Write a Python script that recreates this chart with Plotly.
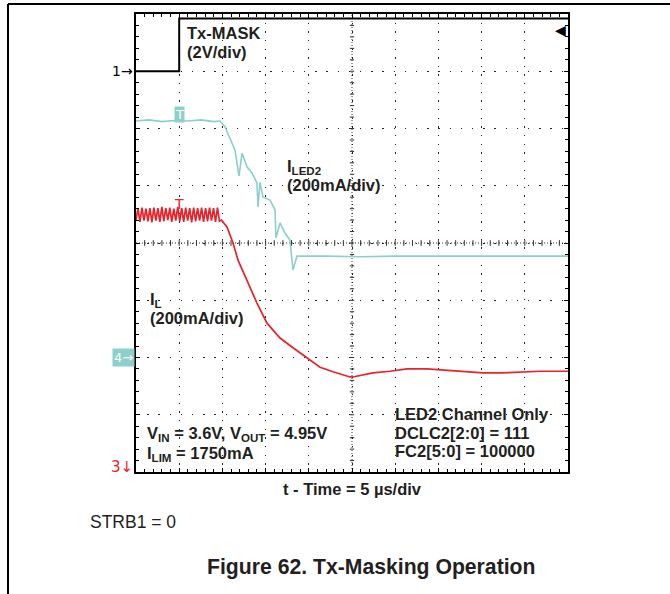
import plotly.graph_objects as go

# ---- data (time in µs, value in screen divisions 0..8) ----
txmask_t = [0.0, 5.0, 5.0, 50.0]
txmask_v = [7.0, 7.0, 7.92, 7.92]

iled2_t = [0.0, 1.5, 3.0, 4.5, 6.0, 7.5, 9.0, 9.72, 10.30, 11.11, 11.46, 11.92, 12.27, 12.85, 13.43,
           14.00, 14.12, 14.35, 14.70, 15.51, 16.09, 16.20, 16.67, 17.25, 17.82, 18.17, 18.63,
           22.0, 26.0, 30.0, 34.0, 38.0, 42.0, 46.0, 50.0]
iled2_v = [6.13, 6.15, 6.12, 6.14, 6.13, 6.15, 6.12, 6.13, 6.03, 5.76, 5.62, 5.17, 5.57, 5.33, 5.22,
           5.05, 4.63, 5.06, 4.80, 4.75, 4.58, 4.09, 4.35, 4.17, 4.05, 3.53, 3.77,
           3.77, 3.76, 3.77, 3.77, 3.76, 3.77, 3.77, 3.77]

il_ripple_t = [0.00, 0.23, 0.46, 0.69, 0.92, 1.15, 1.38, 1.61, 1.84, 2.07, 2.30, 2.53, 2.76, 2.99,
               3.22, 3.45, 3.68, 3.91, 4.14, 4.37, 4.60, 4.83, 5.06, 5.29, 5.52, 5.75, 5.98, 6.21,
               6.44, 6.67, 6.90, 7.13, 7.36, 7.59, 7.82, 8.05, 8.28, 8.51, 8.74, 8.97, 9.20, 9.43,
               9.66, 9.89]
il_ripple_v = [4.40, 4.61, 4.37, 4.62, 4.39, 4.60, 4.38, 4.61, 4.36, 4.62, 4.39, 4.61, 4.37, 4.63,
               4.38, 4.61, 4.40, 4.62, 4.37, 4.60, 4.39, 4.63, 4.38, 4.61, 4.37, 4.62, 4.39, 4.61,
               4.36, 4.62, 4.38, 4.61, 4.39, 4.62, 4.37, 4.61, 4.38, 4.62, 4.39, 4.61, 4.37, 4.62,
               4.38, 4.40]
il_decay_t = [10.53, 11.23, 11.81, 12.85, 14.00, 15.16, 16.67, 18.17, 19.79, 21.30, 22.80, 24.77,
              25.10, 27.43, 29.40, 31.37, 33.68, 35.53, 37.85, 40.16, 42.13, 44.44, 46.76, 50.0]
il_decay_v = [4.28, 4.00, 3.70, 3.35, 2.95, 2.60, 2.34, 2.17, 1.99, 1.83, 1.75, 1.66,
              1.66, 1.73, 1.76, 1.80, 1.80, 1.78, 1.75, 1.73, 1.73, 1.75, 1.76, 1.76]

FONT = "Liberation Sans, Arial, Helvetica, sans-serif"
SYM = "DejaVu Sans, sans-serif"
TXT = "#231f20"
CYAN = "#8ccfcb"
RED = "#e8232b"

fig = go.Figure()
fig.add_trace(go.Scatter(x=iled2_t, y=iled2_v, mode="lines", line=dict(color=CYAN, width=1.6),
                         hoverinfo="skip", showlegend=False))
fig.add_trace(go.Scatter(x=il_ripple_t + il_decay_t, y=il_ripple_v + il_decay_v, mode="lines",
                         line=dict(color=RED, width=1.7), hoverinfo="skip", showlegend=False))
fig.add_trace(go.Scatter(x=txmask_t, y=txmask_v, mode="lines", line=dict(color="black", width=2),
                         hoverinfo="skip", showlegend=False))

W, H = 670, 594
L, R, T, B = 136, 102, 14, 122
PW, PH = W - L - R, H - T - B

def px(x):
    return (x - L) / PW

def py(y):
    return (H - B - y) / PH

shapes = []
# page frame
shapes.append(dict(type="line", xref="paper", yref="paper", x0=px(8), x1=px(670), y0=py(4), y1=py(4),
                   line=dict(color="black", width=2)))
shapes.append(dict(type="line", xref="paper", yref="paper", x0=px(8), x1=px(8), y0=py(4), y1=py(594),
                   line=dict(color="black", width=2)))
# centre cross
shapes.append(dict(type="line", x0=0, x1=50, y0=4, y1=4, line=dict(color="#333", width=1, dash="1px,2px"), layer="below"))
shapes.append(dict(type="line", x0=25, x1=25, y0=0, y1=8, line=dict(color="#333", width=1, dash="1px,2px"), layer="below"))
for i in range(1, 50):
    shapes.append(dict(type="line", x0=i, x1=i, y0=3.95, y1=4.05, line=dict(color="#333", width=1), layer="below"))
for j in range(1, 40):
    shapes.append(dict(type="line", x0=24.75, x1=25.25, y0=j * 0.2, y1=j * 0.2, line=dict(color="#333", width=1), layer="below"))

annotations = []
def txt(x, y, s, size=16.5, bold=True, xref="x", yref="y", xanchor="left", color=TXT, family=FONT, **kw):
    annotations.append(dict(x=x, y=y, xref=xref, yref=yref, text=("<b>%s</b>" % s) if bold else s,
                            showarrow=False, xanchor=xanchor, yanchor="middle",
                            font=dict(family=family, size=size, color=color), **kw))

txt(5.67, 7.67, "Tx-MASK")
txt(5.67, 7.34, "(2V/div)")
txt(17.25, 5.33, "I<sub>LED2</sub>")
txt(17.25, 5.01, "(200mA/div)")
txt(1.39, 3.01, "I<sub>L</sub>")
txt(1.39, 2.69, "(200mA/div)")
txt(1.04, 0.66, "V<sub>IN</sub> = 3.6V, V<sub>OUT</sub> = 4.95V")
txt(1.04, 0.32, "I<sub>LIM</sub> = 1750mA")
txt(29.75, 1.01, "LED2 Channel Only")
txt(29.75, 0.69, "DCLC2[2:0] = 111")
txt(29.75, 0.37, "FC2[5:0] = 100000")
txt(0.5, py(489), "t - Time = 5 µs/div", size=16.5, xref="paper", yref="paper", xanchor="center")
txt(px(88), py(522), "STRB1 = 0", size=17.5, bold=False, xref="paper", yref="paper")
txt(px(371), py(567), "Figure 62. Tx-Masking Operation", size=21.2, xref="paper", yref="paper", xanchor="center")

# channel markers
txt(px(135), 7.0, "1→", size=14, bold=False, xref="paper", xanchor="right", color="black", family=SYM)
annotations.append(dict(x=px(135), y=2.0, xref="paper", yref="y", text="4→", showarrow=False,
                        xanchor="right", yanchor="middle", bgcolor=CYAN, borderpad=1,
                        font=dict(family=SYM, size=13, color="white")))
txt(px(135), 0.09, "3↓", size=15, bold=False, xref="paper", xanchor="right", color=RED, family=SYM)
annotations.append(dict(x=5.0, y=6.25, text="T", showarrow=False, xanchor="center", yanchor="middle",
                        bgcolor=CYAN, borderpad=0, font=dict(family=SYM, size=13, color="white")))
annotations.append(dict(x=5.0, y=4.68, text="T", showarrow=False, xanchor="center", yanchor="middle",
                        font=dict(family=SYM, size=14, color=RED)))
annotations.append(dict(x=1.0, y=7.72, xref="paper", yref="y", text="◀", showarrow=False,
                        xanchor="right", yanchor="middle", font=dict(family=SYM, size=14, color="black")))

axis_common = dict(showline=True, linecolor="black", linewidth=1.5, mirror="allticks",
                   ticks="inside", ticklen=4, tickcolor="black", tickwidth=1, showticklabels=False,
                   zeroline=False, showgrid=True, gridcolor="#222", gridwidth=1.2, fixedrange=True)

fig.update_layout(
    width=W, height=H, margin=dict(l=L, r=R, t=T, b=B),
    paper_bgcolor="white", plot_bgcolor="white",
    xaxis=dict(range=[0, 50], dtick=5, tick0=0, griddash="1.3px,7.34px",
               minor=dict(dtick=1, ticks="inside", ticklen=3, tickcolor="black", showgrid=False),
               **axis_common),
    yaxis=dict(range=[0, 8], dtick=1, tick0=0, griddash="1.3px,9.9px",
               minor=dict(dtick=0.2, ticks="inside", ticklen=3, tickcolor="black", showgrid=False),
               **axis_common),
    shapes=shapes, annotations=annotations,
)
fig.write_html("out.html", config={"displayModeBar": False},
               post_script="document.body.style.margin='0px';document.body.style.overflow='hidden';")
